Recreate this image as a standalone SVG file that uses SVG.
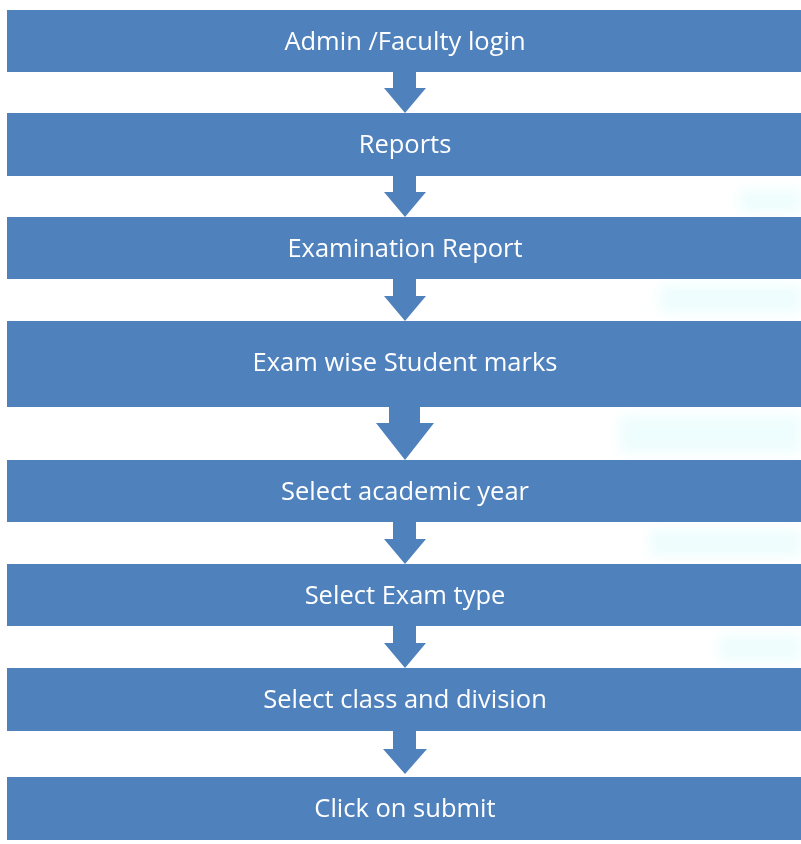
<svg xmlns="http://www.w3.org/2000/svg" width="801" height="844" viewBox="0 0 801 844">
<defs>
<style>
.box{fill:#4F81BD;}
.lbl{fill:#FFFFFF;font-family:"Open Sans","Liberation Sans",sans-serif;font-size:25.5px;text-anchor:middle;}
.arr{fill:#4F81BD;}
.smudge{fill:#DDFBFB;opacity:0.5;}
</style>
<filter id="blur" x="-20%" y="-50%" width="140%" height="200%"><feGaussianBlur stdDeviation="6"/></filter>
</defs>
<rect width="801" height="844" fill="#FFFFFF"/>
<g id="background" filter="url(#blur)">
<rect class="smudge" x="740" y="190" width="61" height="22"/>
<rect class="smudge" x="660" y="285" width="141" height="28"/>
<rect class="smudge" x="620" y="415" width="181" height="38"/>
<rect class="smudge" x="650" y="530" width="151" height="26"/>
<rect class="smudge" x="720" y="635" width="81" height="26"/>
</g>
<g id="connectors">
<path class="arr" d="M393,72 V88 H384 L405,113 L426,88 H416 V72 Z"/>
<path class="arr" d="M393,176 V192 H384 L405,217 L426,192 H416 V176 Z"/>
<path class="arr" d="M393,279 V296 H384 L405,321 L426,296 H416 V279 Z"/>
<path class="arr" d="M389,407 V423 H376 L405,460 L434,423 H420 V407 Z"/>
<path class="arr" d="M393,522 V539 H384 L405,564 L426,539 H416 V522 Z"/>
<path class="arr" d="M393,626 V643 H384 L405,668 L426,643 H416 V626 Z"/>
<path class="arr" d="M393,731 V749 H383 L405,774 L427,749 H416 V731 Z"/>
</g>
<g id="n1"><rect class="box" x="7" y="10" width="796" height="62"/><text class="lbl" x="405" y="50">Admin /Faculty login</text></g>
<g id="n2"><rect class="box" x="7" y="113" width="796" height="63"/><text class="lbl" x="405" y="153">Reports</text></g>
<g id="n3"><rect class="box" x="7" y="217" width="796" height="62"/><text class="lbl" x="405" y="257">Examination Report</text></g>
<g id="n4"><rect class="box" x="7" y="321" width="796" height="86"/><text class="lbl" x="405" y="371">Exam wise Student marks</text></g>
<g id="n5"><rect class="box" x="7" y="460" width="796" height="62"/><text class="lbl" x="405" y="500">Select academic year</text></g>
<g id="n6"><rect class="box" x="7" y="564" width="796" height="62"/><text class="lbl" x="405" y="604">Select Exam type</text></g>
<g id="n7"><rect class="box" x="7" y="668" width="796" height="63"/><text class="lbl" x="405" y="708">Select class and division</text></g>
<g id="n8"><rect class="box" x="7" y="777" width="796" height="63"/><text class="lbl" x="405" y="817">Click on submit</text></g>
</svg>
